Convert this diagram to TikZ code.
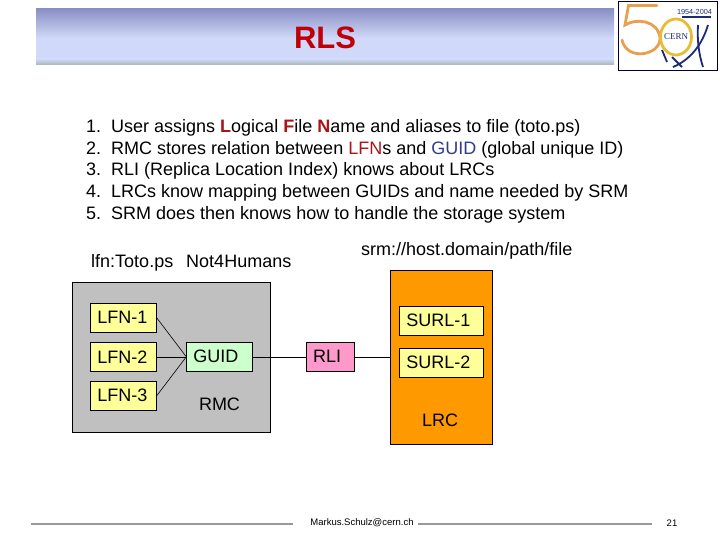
\documentclass[tikz,border=0pt]{standalone}
\usepackage{fontspec}
\setmainfont{Liberation Sans}
\newfontfamily\logofont{Liberation Serif}
\definecolor{palRed}{HTML}{A81418}
\definecolor{titlecolor}{HTML}{C00008}
\definecolor{palBlue}{HTML}{333A8C}
\definecolor{palYellow}{HTML}{FFFF99}
\definecolor{palGreen}{HTML}{CCFFCC}
\definecolor{palPink}{HTML}{FF99CC}
\definecolor{palGrey}{HTML}{C0C0C0}
\definecolor{palOrange}{HTML}{FF9900}
\definecolor{bandTop}{HTML}{8A90C4}
\definecolor{bandMid}{HTML}{D0D9F9}
\definecolor{bandLow}{HTML}{A9B4B4}
\definecolor{footcolor}{HTML}{999999}
\definecolor{logoNavy}{HTML}{1C2A78}
\definecolor{logoOrange}{HTML}{E8A050}
\definecolor{logoGold}{HTML}{E9BC35}
\newcommand{\redb}[1]{\textcolor{palRed}{\bfseries #1}}

\begin{document}
\begin{tikzpicture}[
    x=1pt, y=-1pt,
    txt/.style={font=\fontsize{18}{21}\selectfont, inner sep=0pt},
    ann/.style={txt, anchor=base west},
    small/.style={font=\fontsize{9.5}{11}\selectfont, inner sep=0pt},
    box/.style={txt, draw=black, line width=0.9pt, anchor=north west, outer sep=0pt, inner xsep=7pt, align=left},
    lfn/.style={box, fill=palYellow, text width=52.4pt, minimum height=29pt},
    surl/.style={box, fill=palYellow, text width=70.4pt, minimum height=29pt},
    link/.style={draw=black, line width=0.6pt},
    foot/.style={footcolor, line width=2pt},
    logoline/.style={logoNavy, line width=1.8pt},
]
\useasboundingbox (0, 0) rectangle (720, 540);

% Title band
\shade[top color=bandTop, bottom color=bandMid] (36, 9) rectangle (614, 38);
\fill[bandMid] (36, 38) rectangle (614, 59);
\shade[top color=bandMid, bottom color=bandLow] (36, 59) rectangle (614, 65);
\node[font=\fontsize{31}{33}\selectfont\bfseries, text=titlecolor, inner sep=0pt] (title) at (325, 38) {RLS};

% Logo
\draw[black!80!blue, line width=1pt] (618, 1.5) rectangle (717.5, 71);
\draw[logoOrange, line width=2.8pt, line cap=round] (657, 5.5) -- (628.5, 5.5) -- (625, 25)
    .. controls (636, 18) and (658, 20) .. (660, 38)
    .. controls (661, 55) and (627, 62) .. (622, 40);
\draw[logoline] (672, 57) -- (682, 67);
\draw[logoline] (662, 50) -- (667, 62);
\draw[logoline] (673, 67) .. controls (690, 60) and (702, 45) .. (708, 25);
\draw[logoline] (698, 25) .. controls (697, 40) and (699, 55) .. (703, 67);
\draw[logoline, line width=1.2pt] (682, 17) -- (711, 17);
\draw[logoGold, line width=2.8pt] (676, 37) ellipse (15.5 and 18);
\node[font=\fontsize{9}{10}\logofont, text=logoNavy, inner sep=0pt] (cern) at (676, 37) {CERN};
\node[font=\fontsize{7.3}{8}\selectfont, text=logoNavy, inner sep=0pt] (years) at (694.5, 12) {1954-2004};

% Numbered list
\foreach \n/\y/\t in {
    1/133/{User assigns \redb{L}ogical \redb{F}ile \redb{N}ame and aliases to file (toto.ps)},
    2/154.5/{RMC stores relation between \textcolor{palRed}{LFN}s and \textcolor{palBlue}{GUID} (global unique ID)},
    3/176/{RLI (Replica Location Index) knows about LRCs},
    4/197.5/{LRCs know mapping between GUIDs and name needed by SRM},
    5/219/{SRM does then knows how to handle the storage system}} {
    \node[ann] (num\n) at (86, \y) {\n.};
    \node[ann] (item\n) at (111, \y) {\t};
}

% Upper labels
\node[ann] (lfnname) at (91, 267.5) {lfn:Toto.ps\hspace{13pt}Not4Humans};
\node[ann] (srmname) at (361, 255) {srm://host.domain/path/file};

% Containers
\node[box, fill=palGrey, minimum width=198pt, minimum height=149.7pt] (rmc) at (72.7, 282.3) {};
\node[box, fill=palOrange, minimum width=102pt, minimum height=173.7pt] (lrc) at (390.3, 270.3) {};
\node[txt] (rmcname) at (219.5, 404) {RMC};
\node[txt] (lrcname) at (440, 420) {LRC};

% Boxes
\foreach \n/\y in {1/303.3, 2/342.3, 3/381.3} {
    \node[lfn] (lfn\n) at (90.3, \y) {LFN-\n};
}
\foreach \n/\y in {1/306.3, 2/348.3} {
    \node[surl] (surl\n) at (399.3, \y) {SURL-\n};
}
\node[box, fill=palGreen, text width=52.4pt, minimum height=29pt] (guid) at (186.3, 342.3) {GUID};
\node[box, fill=palPink, text width=34.3pt, minimum height=29pt] (rli) at (306, 342.3) {RLI};

% Links
\foreach \n in {1, 2, 3} {
    \draw[link] (lfn\n.east) -- (guid.west);
}
\draw[link] (guid) -- (rli);
\draw[link] (rli.east) -- (rli.east -| lrc.west);

% Footer
\draw[foot] (31, 524) -- (293, 524);
\draw[foot] (418, 524) -- (652, 524);
\node[small] (mail) at (362, 523) {Markus.Schulz@cern.ch};
\node[small] (page) at (672, 523) {21};

\end{tikzpicture}
\end{document}
